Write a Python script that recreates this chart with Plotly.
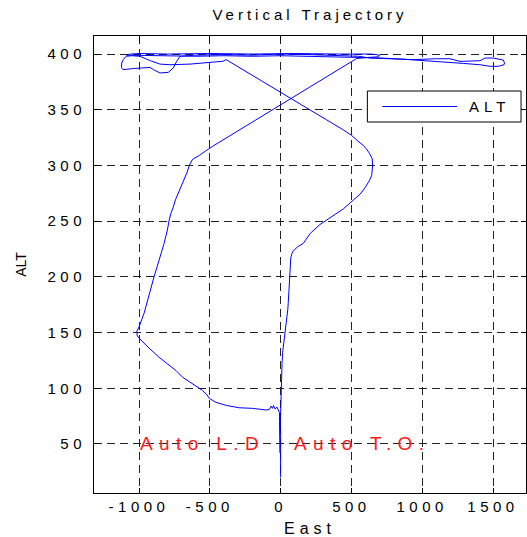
import plotly.graph_objects as go

# ---- data ----
takeoff_east = [0, 1, 1, 0, -1, 1, 2, 5, 10, 14, 19, 25, 31, 37, 43, 48, 51, 54, 57, 60, 64, 67, 72, 80]
takeoff_alt = [20, 30, 45, 60, 72, 85, 100, 110, 122, 132, 137, 144, 150, 156, 161, 165, 171, 177, 186, 195, 205, 212, 217, 221]

climb_east = [87, 120, 160, 209, 278, 325, 380, 443, 514, 560, 596, 625, 643, 650, 647, 627, 605, 584, 545, 501, 442, 380, 324, 250, 170, 87, 0, -100, -200, -300, -385]
climb_alt = [223, 227, 230, 239, 247, 251, 256, 261, 269, 274, 280, 286, 291, 300, 306, 311, 315, 318, 322, 327, 332, 337, 341, 346.6, 352.7, 359, 365.7, 373.3, 380.9, 388.5, 395]

circuit_east = [-408, -500, -640, -782, -852, -920, -993, -1050, -1090, -1112, -1122, -1124, -1112, -1040, -980, -922, -898, -852, -793, -758, -734, -710, -600, -400, -200, 0, 200, 400, 550, 632, 800, 937, 1102, 1196, 1267, 1340, 1408, 1443, 1502, 1573, 1581, 1578, 1537, 1479, 1408, 1290, 1173, 1102, 984, 850, 700, 537, 400, 200, 0, -200, -400, -600, -800, -950, -1040, -1088, -1060, -993, -800, -500, -200, 100, 400, 642, 700, 690, 620, 537]
circuit_alt = [393.5, 392.5, 391, 390.4, 391, 394, 398, 398.5, 398, 395, 392, 388, 386, 387, 387.5, 388, 386, 383, 383.6, 387.5, 393.5, 398, 399, 399.5, 399, 400, 399.5, 399, 398, 396.4, 395.5, 395, 395.8, 395.8, 393.4, 393.5, 394, 396.4, 396.4, 394.6, 392, 390.4, 389, 389, 390.4, 391.6, 392.8, 393.4, 394.6, 395.5, 396.5, 397, 397.5, 398, 398.5, 398, 398.5, 398, 398.5, 399, 399.5, 399, 400, 400.5, 400, 400.5, 400, 400.5, 400, 400, 399, 397.5, 397, 396]

descent_east = [502, 450, 349, 250, 150, 87, 0, -100, -149, -220, -291, -350, -409, -470, -530, -574, -622, -640, -645, -660, -680, -700, -716, -740, -760, -775, -787, -800, -823, -840, -858, -875, -894, -910, -925, -941, -955, -965, -980, -990, -1000, -1016, -1012, -1000, -970, -929, -860, -787, -740, -693, -620, -551, -520, -504, -456, -380, -291, -200, -101, -80, -66, -58, -50, -40, -25, -15, -8, -8, -6, -8, -5]
descent_alt = [393.3, 389.3, 381.5, 373.8, 366, 361.2, 354.5, 346.8, 343, 337.5, 332, 327.5, 323, 318, 313, 309, 305.5, 302, 300, 294, 288, 282, 278, 270, 262, 257, 251, 242, 230, 222, 215, 208, 200, 192, 185, 179, 172, 167, 162, 158, 155, 151, 147, 145, 141, 136, 128, 121, 116, 110, 104, 98, 94, 91, 87.3, 84.5, 82.5, 82, 80.5, 81, 84, 82, 84.5, 81.5, 83, 80, 78, 70, 60, 50, 42]

x_ticks = [-1000, -500, 0, 500, 1000, 1500]
y_ticks = [50, 100, 150, 200, 250, 300, 350, 400]
series_name = "ALT"
title_text = "Vertical Trajectory"
x_title = "East"
y_title = "ALT"
label_landing = "Auto L.D"
label_takeoff = "Auto T.O."
label_x = [-1007, 80]
label_y = 50

east = takeoff_east + climb_east + circuit_east + descent_east
alt = takeoff_alt + climb_alt + circuit_alt + descent_alt

FONT = "Liberation Sans, Arial, Helvetica, sans-serif"
BLUE = "#0000ff"

fig = go.Figure()
fig.add_trace(go.Scatter(x=east, y=alt, mode="lines", name=series_name,
                         line=dict(color=BLUE, width=1)))

axis_common = dict(
    ticks="inside", ticklen=5, tickcolor="black", tickwidth=1,
    showline=True, linecolor="black", linewidth=1, mirror="ticks",
    showgrid=True, gridcolor="#222222", gridwidth=1, griddash="8px,5px",
    zeroline=False, tickfont=dict(family=FONT, size=15, color="black"),
)

fig.update_layout(
    width=527, height=537,
    margin=dict(l=94, r=1, t=36, b=44),
    paper_bgcolor="white", plot_bgcolor="white",
    showlegend=False,
    title=dict(text=title_text, x=0.5, xref="paper", y=1 - 15 / 537, yref="container",
               xanchor="center", yanchor="middle",
               font=dict(family=FONT, size=15, color="black")),
    xaxis=dict(range=[-1318, 1733], tickvals=x_ticks, ticktext=[str(v) for v in x_ticks],
               ticklabelstandoff=0,
               title=dict(text=x_title, standoff=8, font=dict(family=FONT, size=16, color="black")),
               **axis_common),
    yaxis=dict(range=[6, 416.2], tickvals=y_ticks, ticktext=[str(v) for v in y_ticks],
               ticklabelstandoff=4,
               title=dict(text=y_title, standoff=31, font=dict(family=FONT, size=14, color="black")),
               **axis_common),
)

# red labels
fig.add_annotation(x=label_x[0], y=label_y, xref="x", yref="y", text=label_landing,
                   showarrow=False, xanchor="left", yanchor="middle", align="left",
                   font=dict(family=FONT, size=19, color="#ff1a1a"))
fig.add_annotation(x=label_x[1], y=label_y, xref="x", yref="y", text=label_takeoff,
                   showarrow=False, xanchor="left", yanchor="middle", align="left",
                   font=dict(family=FONT, size=19, color="#ff1a1a"))

# legend box (paper coordinates)
fig.add_shape(type="rect", xref="paper", yref="paper", x0=0.6328, x1=0.9885, y0=0.8118, y1=0.8796,
              line=dict(color="black", width=1), fillcolor="white", layer="above")
fig.add_shape(type="line", xref="paper", yref="paper", x0=0.6674, x1=0.8406, y0=0.8457, y1=0.8457,
              line=dict(color=BLUE, width=1), layer="above")
fig.add_annotation(x=0.8637, y=0.8457, xref="paper", yref="paper", text=series_name,
                   showarrow=False, xanchor="left", yanchor="middle", align="left",
                   font=dict(family=FONT, size=15, color="black"))

post = """
var gd = document.getElementById('{plot_id}');
function applySpacing(){
  function set(sel, v){ gd.querySelectorAll(sel).forEach(function(e){ e.setAttribute('letter-spacing', v); }); }
  set('.xtick text', '4.5px');
  set('.ytick text', '4.5px');
  set('.gtitle', '4px');
  set('.g-xtitle text', '5px');
  set('.annotation[data-index="0"] text', '6.4px');
  set('.annotation[data-index="1"] text', '6.4px');
  set('.annotation[data-index="2"] text', '5px');
}
applySpacing();
if (gd.on) { gd.on('plotly_afterplot', applySpacing); }
"""

fig.write_html("out.html", post_script=post)
